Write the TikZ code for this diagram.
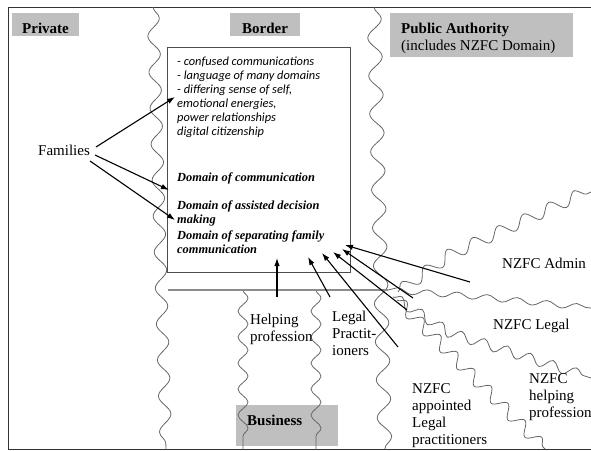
\documentclass[tikz,border=0pt]{standalone}
\usepackage{fontspec}
\setmainfont{Liberation Serif}
\newfontfamily\notefont{Carlito}
\usetikzlibrary{decorations.pathmorphing,arrows.meta}
\newcommand\mylines[1]{\begin{tabular}[t]{@{}l@{}}#1\end{tabular}}
\begin{document}
\begin{tikzpicture}[x=1pt,y=-1pt,
  lbl/.style={anchor=base west, inner sep=0pt, font=\fontsize{15}{17}\selectfont},
  ttl/.style={anchor=base west, inner sep=0pt, font=\fontsize{15}{17}\selectfont\bfseries},
  greybox/.style={fill=black!25},
  wave/.style={draw=black!60, line width=0.8pt, decorate, decoration={snake, segment length=30pt, amplitude=6pt}},
  hline/.style={draw=black!45, line width=1.2pt},
  frame/.style={draw=black!80, line width=1pt},
  domainbox/.style={draw=black!70, line width=1.2pt, fill=white, inner sep=0pt, anchor=north west},
  note/.style={anchor=base west, inner sep=0pt, font=\notefont\itshape\fontsize{12.4}{14}\selectfont},
  dom/.style={anchor=base west, inner sep=0pt, font=\bfseries\itshape\fontsize{12.4}{14}\selectfont},
  arr/.style={draw=black, line width=1.1pt, -{Latex[length=8pt,width=5.5pt]}}
]
\useasboundingbox (0,0) rectangle (591,450);
% outer frame
\draw[frame] (8,7) rectangle (597,449);
% grey title boxes
\fill[greybox] (12,13) rectangle (79,36);
\fill[greybox] (230,13) rectangle (300,36);
\fill[greybox] (390,13) rectangle (573,57);
\fill[greybox] (236,405) rectangle (338,446);
% wavy boundaries
\draw[wave, decoration={segment length=36pt, amplitude=6pt}] (153,7) -- (166,449);
\draw[wave, decoration={segment length=38pt, amplitude=7pt}] (374,7) -- (385,449);
\draw[wave, decoration={segment length=26pt, amplitude=5pt}] (243,290) -- (243,449);
\draw[wave, decoration={segment length=26pt, amplitude=5pt}] (316,290) -- (316,449);
\draw[wave, decoration={segment length=30pt, amplitude=3pt}] (388,290) -- (470,296) -- (591,308);
\draw[wave, decoration={segment length=28pt, amplitude=6pt}] (398,292) -- (440,262) -- (591,192);
\draw[wave, decoration={segment length=24pt, amplitude=5pt}] (393,297) -- (450,333) -- (591,378);
\draw[wave, decoration={segment length=24pt, amplitude=6pt}] (397,300) -- (545,449);
\draw[hline] (168,290) -- (388,290);
% central domain box
\node[domainbox, minimum width=183pt, minimum height=225pt] (box) at (167,47) {};
% titles
\node[ttl] (priv) at (22,33) {Private};
\node[ttl] (bord) at (242,33) {Border};
\node[lbl] (pub) at (401,33) {\mylines{\textbf{Public Authority}\\(includes NZFC Domain)}};
\node[ttl] (bus) at (247,425) {Business};
% labels
\node[lbl] (fam) at (38,155) {Families};
\node[lbl] (help) at (250,324) {\mylines{Helping\\profession}};
\node[lbl] (legal) at (332,321) {\mylines{Legal\\Practit-\\ioners}};
\node[lbl] (admin) at (502,268) {NZFC Admin};
\node[lbl] (nlegal) at (493,329) {NZFC Legal};
\node[lbl] (appt) at (412,393) {\mylines{NZFC\\appointed\\Legal\\practitioners}};
\node[lbl] (nhelp) at (529,383) {\mylines{NZFC\\helping\\profession}};
% box texts
\node[note] (n1) at (177,65) {\mylines{- confused communications\\- language of many domains\\- differing sense of self,\\emotional energies,\\power relationships\\digital citizenship}};
\node[dom] (d1) at (177,181) {Domain of communication};
\node[dom] (d2) at (177,209) {\mylines{Domain of assisted decision\\making}};
\node[dom] (d3) at (177,239) {\mylines{Domain of separating family\\communication}};
% arrow end points
\coordinate (f1s) at (96,147);  \coordinate (f1e) at (175,97);
\coordinate (f2s) at (95,155);  \coordinate (f2e) at (169,190);
\coordinate (f3s) at (90,161);  \coordinate (f3e) at (175,220);
\coordinate (hs) at (277,297);  \coordinate (he) at (277,258);
\coordinate (ls) at (330,297);  \coordinate (le) at (308,257);
\coordinate (as) at (398,347);  \coordinate (ae) at (322,253);
\coordinate (nhs) at (407,310); \coordinate (nhe) at (333,252);
\coordinate (nls) at (413,298); \coordinate (nle) at (342,249);
\coordinate (ads) at (470,282); \coordinate (ade) at (345,245);
% arrows
\draw[arr] (f1s) -- (f1e);
\draw[arr] (f2s) -- (f2e);
\draw[arr] (f3s) -- (f3e);
\draw[arr] (hs) -- (he);
\draw[arr] (ls) -- (le);
\draw[arr] (as) -- (ae);
\draw[arr] (nhs) -- (nhe);
\draw[arr] (nls) -- (nle);
\draw[arr] (ads) -- (ade);
\end{tikzpicture}
\end{document}
